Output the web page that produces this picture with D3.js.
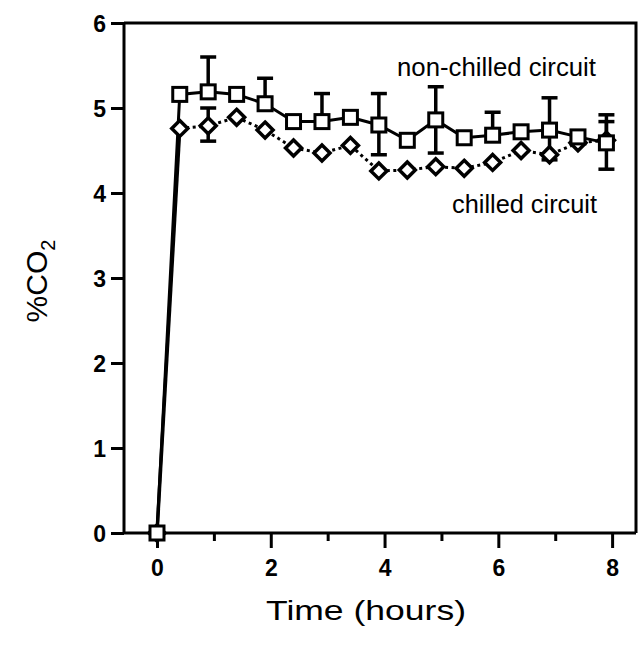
<!DOCTYPE html>
<html>
<head>
<meta charset="utf-8">
<script src="https://cdn.jsdelivr.net/npm/d3@7"></script>
<style>
  html, body { margin: 0; padding: 0; background: #fff; }
  svg { display: block; }
  text { font-family: "Liberation Sans", Arial, Helvetica, sans-serif; fill: #000; }
</style>
</head>
<body>
<svg id="chart" width="639" height="647"></svg>
<script>
// ---- data ----
const times      = [0, 0.4, 0.9, 1.4, 1.9, 2.4, 2.9, 3.4, 3.9, 4.4, 4.9, 5.4, 5.9, 6.4, 6.9, 7.4, 7.9];
const nonChilled = [0, 5.16, 5.19, 5.16, 5.05, 4.84, 4.84, 4.89, 4.80, 4.62, 4.86, 4.65, 4.68, 4.72, 4.74, 4.66, 4.59];
const chilled    = [0, 4.76, 4.79, 4.89, 4.74, 4.53, 4.47, 4.56, 4.26, 4.27, 4.31, 4.29, 4.36, 4.50, 4.45, 4.59, 4.62];
const nonChilledErrUp   = [null, null, 0.41, null, 0.30, null, 0.33, null, 0.37, null, 0.39, null, 0.27, null, 0.38, null, 0.33];
const nonChilledErrDown = [null, null, null, null, null, null, null, null, 0.35, null, 0.39, null, null, null, 0.35, null, 0.31];
const chilledErrUp      = [null, null, 0.21, null, null, null, null, null, null, null, null, null, null, null, null, null, 0.22];
const chilledErrDown    = [null, null, 0.18, null, null, null, null, null, null, null, null, null, null, null, null, null, null];
const xTickLabels = [0, 2, 4, 6, 8];
const xMinorTicks = [1, 3, 5, 7];
const yTickLabels = [0, 1, 2, 3, 4, 5, 6];

// ---- layout ----
const svg = d3.select("#chart");
const x = d3.scaleLinear().domain([-0.58, 8.42]).range([124, 636]);
const y = d3.scaleLinear().domain([0, 6]).range([533, 23]);
const SW = 3;

// frame (top and right borders)
svg.append("path")
  .attr("d", `M${x.range()[0]},${y(6)}H${x.range()[1]}V${y(0)}`)
  .attr("fill", "none").attr("stroke", "#000").attr("stroke-width", SW);

// y axis
const gy = svg.append("g").attr("transform", `translate(${x.range()[0]},0)`)
  .call(d3.axisLeft(y).tickValues(yTickLabels).tickFormat(d3.format("d")).tickSize(13).tickSizeOuter(0).tickPadding(5));
gy.select(".domain").attr("stroke-width", SW).attr("d", `M0,${y(0)}V${y(6)}`);
gy.selectAll(".tick line").attr("stroke-width", SW);
gy.selectAll(".tick text").style("font-size", "23px").style("font-weight", "bold").attr("dy", "0.36em");

// x axis
const gx = svg.append("g").attr("transform", `translate(0,${y(0)})`)
  .call(d3.axisBottom(x).tickValues(xTickLabels).tickFormat(d3.format("d")).tickSize(15).tickSizeOuter(0).tickPadding(12));
gx.select(".domain").attr("stroke-width", SW).attr("d", `M${x.range()[0]},0H${x.range()[1]}`);
gx.selectAll(".tick line").attr("stroke-width", SW);
gx.selectAll(".tick text").style("font-size", "23px").style("font-weight", "bold");
const gxm = svg.append("g").attr("transform", `translate(0,${y(0)})`)
  .call(d3.axisBottom(x).tickValues(xMinorTicks).tickFormat("").tickSize(8).tickSizeOuter(0));
gxm.select(".domain").remove();
gxm.selectAll(".tick line").attr("stroke-width", SW);

// ---- series ----
const line = (vals) => d3.line().x((d, i) => x(times[i])).y(d => y(d))(vals);

// rise segment (solid for both)
svg.append("path").attr("d", line(chilled.slice(0, 2)))
  .attr("fill", "none").attr("stroke", "#000").attr("stroke-width", SW + 0.5);

// chilled dotted line
svg.append("path").attr("d", d3.line().x((d, i) => x(times[i + 1])).y(d => y(d))(chilled.slice(1)))
  .attr("fill", "none").attr("stroke", "#000").attr("stroke-width", SW)
  .attr("stroke-dasharray", "3,3.5");

// non-chilled solid line
svg.append("path").attr("d", line(nonChilled))
  .attr("fill", "none").attr("stroke", "#000").attr("stroke-width", SW);

// error bars
function errBars(vals, up, down) {
  const g = svg.append("g").attr("stroke", "#000").attr("stroke-width", SW + 0.5).attr("fill", "none");
  vals.forEach((v, i) => {
    const cx = x(times[i]);
    if (up[i] != null) {
      g.append("line").attr("x1", cx).attr("x2", cx).attr("y1", y(v)).attr("y2", y(v + up[i]));
      g.append("line").attr("x1", cx - 8).attr("x2", cx + 8).attr("y1", y(v + up[i])).attr("y2", y(v + up[i]));
    }
    if (down[i] != null) {
      g.append("line").attr("x1", cx).attr("x2", cx).attr("y1", y(v)).attr("y2", y(v - down[i]));
      g.append("line").attr("x1", cx - 8).attr("x2", cx + 8).attr("y1", y(v - down[i])).attr("y2", y(v - down[i]));
    }
  });
}
errBars(chilled, chilledErrUp, chilledErrDown);
errBars(nonChilled, nonChilledErrUp, nonChilledErrDown);

// chilled diamonds
svg.append("g").selectAll("path").data(chilled).join("path")
  .attr("d", (d, i) => {
    const cx = x(times[i]), cy = y(d), r = 8;
    return `M${cx},${cy - r}L${cx + r},${cy}L${cx},${cy + r}L${cx - r},${cy}Z`;
  })
  .attr("fill", "#fff").attr("stroke", "#000").attr("stroke-width", SW + 0.5);

// non-chilled squares
svg.append("g").selectAll("rect").data(nonChilled).join("rect")
  .attr("x", (d, i) => x(times[i]) - 7).attr("y", d => y(d) - 7)
  .attr("width", 14).attr("height", 14)
  .attr("fill", "#fff").attr("stroke", "#000").attr("stroke-width", SW);

// ---- labels ----
svg.append("text").attr("x", 397).attr("y", 76).style("font-size", "26px")
  .attr("textLength", 199).attr("lengthAdjust", "spacingAndGlyphs").text("non-chilled circuit");
svg.append("text").attr("x", 452).attr("y", 213).style("font-size", "26px")
  .attr("textLength", 145).attr("lengthAdjust", "spacingAndGlyphs").text("chilled circuit");
svg.append("text").attr("x", 366).attr("y", 620).attr("text-anchor", "middle").style("font-size", "28px")
  .attr("textLength", 200).attr("lengthAdjust", "spacingAndGlyphs").text("Time (hours)");
const yl = svg.append("text").attr("transform", "translate(47,281) rotate(-90)")
  .attr("text-anchor", "middle").style("font-size", "30px");
yl.append("tspan").text("%CO");
yl.append("tspan").attr("dy", 8).style("font-size", "20px").text("2");
</script>
</body>
</html>
